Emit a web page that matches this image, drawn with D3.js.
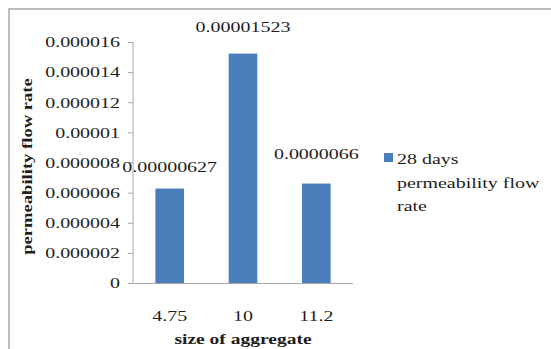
<!DOCTYPE html>
<html><head><meta charset="utf-8">
<script src="https://cdn.jsdelivr.net/npm/d3@7"></script>
<style>
html,body{margin:0;padding:0;background:#fff;}
svg{display:block;}
text{font-family:"Liberation Serif","Times New Roman",serif;fill:#1e1e1e;}
</style></head>
<body>
<svg id="chart" width="551" height="349"></svg>
<script>
const categories = ["4.75", "10", "11.2"];
const values = [0.00000627, 0.00001523, 0.0000066];
const valueLabels = ["0.00000627", "0.00001523", "0.0000066"];
const yTicks = [0, 0.000002, 0.000004, 0.000006, 0.000008, 0.00001, 0.000012, 0.000014, 0.000016];
const yTickLabels = ["0", "0.000002", "0.000004", "0.000006", "0.000008", "0.00001", "0.000012", "0.000014", "0.000016"];
const seriesName = "28 days permeability flow rate";
const legendLines = ["28 days", "permeability flow", "rate"];
const xTitle = "size of aggregate";
const yTitle = "permeability flow rate";
const labelNudge = [17, 22, 25];

const svg = d3.select("#chart");
function widen(sel, f){
  const k = f || 1.33;
  sel.each(function(){
    const len = this.getComputedTextLength();
    d3.select(this).attr("textLength", len * k).attr("lengthAdjust", "spacingAndGlyphs");
  });
}

// frame
svg.append("line").attr("x1", 9).attr("x2", 551).attr("y1", 9).attr("y2", 9)
  .attr("stroke", "#bdbdbd").attr("stroke-width", 2);
svg.append("line").attr("x1", 9).attr("x2", 9).attr("y1", 8).attr("y2", 349)
  .attr("stroke", "#bdbdbd").attr("stroke-width", 2);

const plot = {left: 133, right: 353, top: 42, bottom: 283};
const x = d3.scaleBand().domain(categories).range([plot.left, plot.right])
  .paddingInner(0.61).paddingOuter(0.305);
const y = d3.scaleLinear().domain([0, 0.000016]).range([plot.bottom, plot.top]);

// y axis
const yAxis = d3.axisLeft(y).tickValues(yTicks).tickSize(5).tickPadding(8)
  .tickFormat((d, i) => yTickLabels[i]);
const gy = svg.append("g").attr("transform", `translate(${plot.left},0)`).call(yAxis);
gy.select(".domain").attr("stroke", "#a6a6a6").attr("d", `M0,${plot.top}V${plot.bottom}`);
gy.selectAll(".tick line").attr("stroke", "#a6a6a6");
gy.selectAll(".tick text").attr("font-family", "Liberation Serif").attr("font-size", 15)
  .attr("fill", "#1e1e1e").call(widen);

// bars
svg.append("g").selectAll("rect").data(values).join("rect")
  .attr("x", (d, i) => x(categories[i]))
  .attr("y", d => y(d))
  .attr("width", x.bandwidth())
  .attr("height", d => y(0) - y(d))
  .attr("fill", "#4a7ebb");

// x axis
const xAxis = d3.axisBottom(x).tickSize(0).tickPadding(30);
const gx = svg.append("g").attr("transform", `translate(0,${plot.bottom})`).call(xAxis);
gx.select(".domain").attr("stroke", "#a6a6a6").attr("d", `M${plot.left},0.5H${plot.right}`);
gx.selectAll(".tick text").attr("font-family", "Liberation Serif").attr("font-size", 15)
  .attr("fill", "#1e1e1e").attr("dy", 0).attr("y", 38).call(widen);

// value labels
svg.append("g").selectAll("text").data(values).join("text")
  .attr("x", (d, i) => x(categories[i]) + x.bandwidth() / 2)
  .attr("y", (d, i) => y(d) - labelNudge[i])
  .attr("text-anchor", "middle").attr("font-size", 15)
  .text((d, i) => valueLabels[i]).call(widen);

// axis titles
svg.append("text").attr("x", (plot.left + plot.right) / 2).attr("y", 344)
  .attr("text-anchor", "middle").attr("font-size", 15).attr("font-weight", "bold")
  .text(xTitle).call(widen, 1.3);
svg.append("text").attr("transform", `translate(32,${(plot.top + plot.bottom) / 2 + 4}) rotate(-90)`)
  .attr("text-anchor", "middle").attr("font-size", 15).attr("font-weight", "bold")
  .text(yTitle).call(widen, 1.24);

// legend
const lg = svg.append("g").attr("transform", "translate(384,153)");
lg.append("rect").attr("width", 9).attr("height", 9).attr("fill", "#4a7ebb");
lg.append("title").text(seriesName);
lg.selectAll("text").data(legendLines).join("text")
  .attr("x", 13).attr("y", (d, i) => 11 + i * 23.5)
  .attr("font-size", 15).text(d => d).call(widen);
</script>
</body></html>
